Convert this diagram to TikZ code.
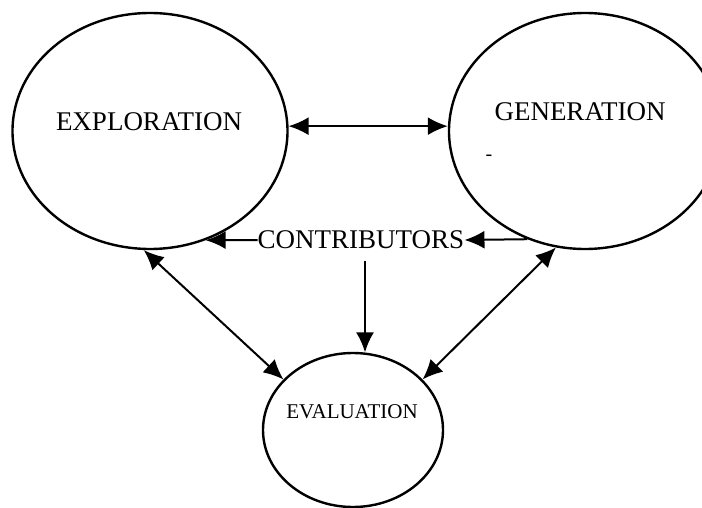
\documentclass[tikz,border=0pt]{standalone}
\usepackage{fontspec}
\setmainfont{Liberation Serif}
\usetikzlibrary{shapes.geometric,arrows.meta}
\begin{document}
\begin{tikzpicture}[x=1pt,y=-1pt,
  oval/.style={draw,ellipse,line width=2.4pt,inner sep=0pt},
  bigtxt/.style={inner sep=0pt,font=\fontsize{27}{30}\selectfont},
  smalltxt/.style={inner sep=0pt,font=\fontsize{21}{24}\selectfont},
  link/.style={line width=2pt,-{Latex[length=20pt,width=18pt]}},
  twoway/.style={line width=2pt,{Latex[length=20pt,width=18pt]}-{Latex[length=20pt,width=18pt]}}]
\useasboundingbox (0,0) rectangle (702,508);
\clip (0,0) rectangle (702,508);
% the three activity ovals
\node[oval,minimum width=275pt,minimum height=236pt] (expl) at (150,131) {};
\node[oval,minimum width=272pt,minimum height=236pt] (gen) at (585,131) {};
\node[oval,minimum width=180pt,minimum height=154pt] (eval) at (353,430) {};
% their titles
\node[bigtxt] (explt) at (149,122) {EXPLORATION};
\node[bigtxt] (gent) at (580,112) {GENERATION};
\node[inner sep=0pt,font=\fontsize{20}{22}\selectfont] (dash) at (489,158) {-};
\node[smalltxt] (evalt) at (352,412) {EVALUATION};
\node[bigtxt] (contr) at (361,240) {CONTRIBUTORS};
\coordinate (cdown) at ([xshift=4pt,yshift=-12pt]contr.south);
% connectors
\draw[twoway] (expl.2) -- (expl.2 -| gen.west);
\draw[link] (contr.west) -- (expl.-63);
\draw[link] (gen.-118) -- (contr.east);
\draw[twoway] (expl.-93) -- (eval.144);
\draw[twoway] (gen.-104) -- (eval.36);
\draw[link] (cdown) -- (cdown |- eval.82);
\end{tikzpicture}
\end{document}
